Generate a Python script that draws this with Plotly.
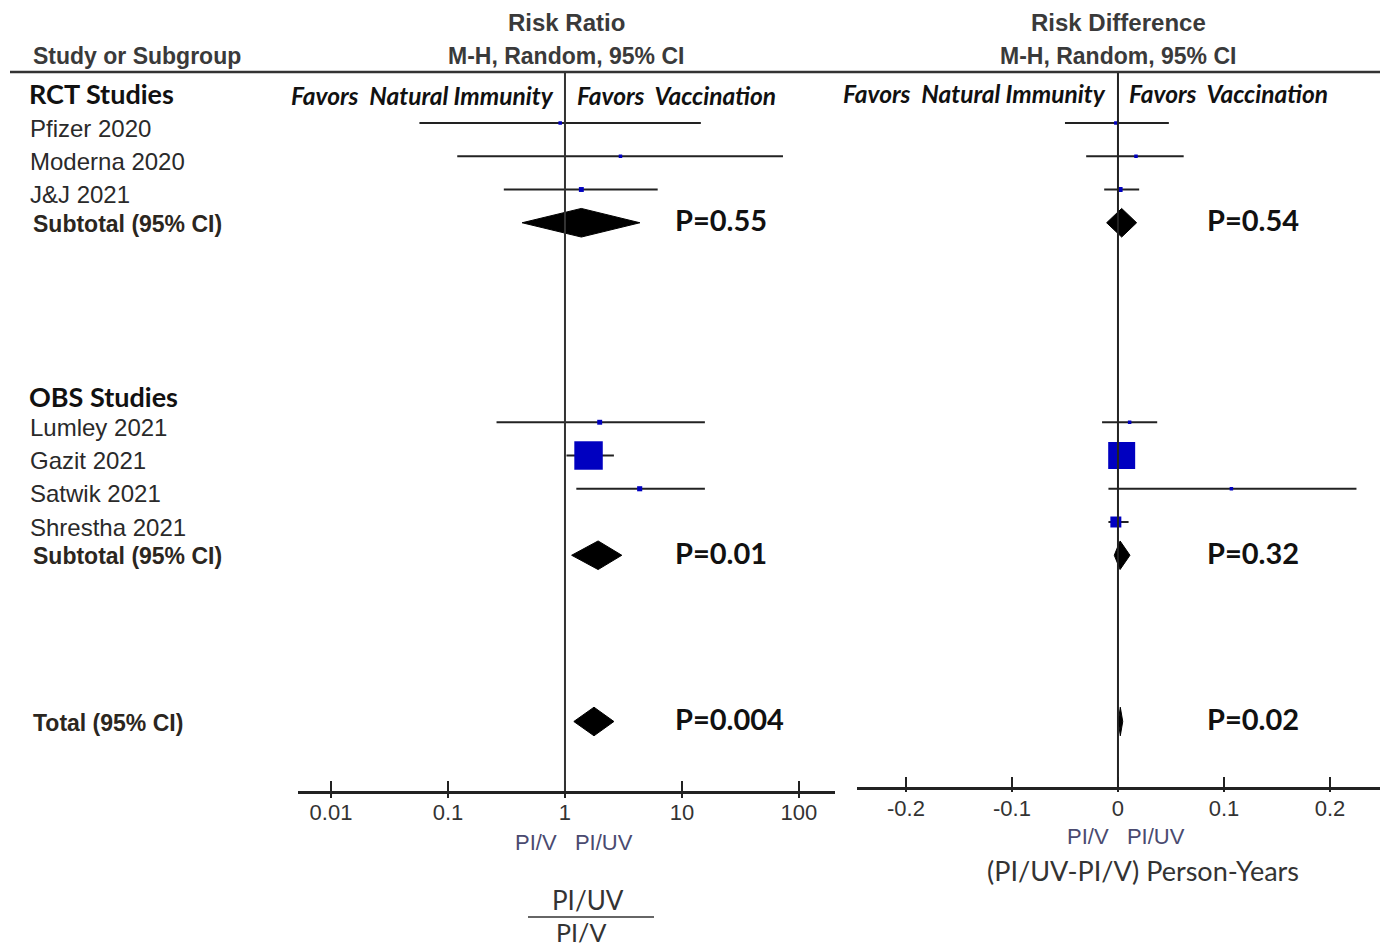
import plotly.graph_objects as go

W, H = 1380, 949

# ---------------- data ----------------
studies = ["Pfizer 2020", "Moderna 2020", "J&J 2021",
           "Lumley 2021", "Gazit 2021", "Satwik 2021", "Shrestha 2021"]
study_rows = [1, 2, 3, 10, 11, 12, 13]

rr_est = [0.91, 2.98, 1.38, 1.98, 1.59, 4.35, None]
rr_lo = [0.057, 0.12, 0.30, 0.26, 1.03, 1.25, None]
rr_hi = [14.5, 73.0, 6.2, 15.7, 2.62, 15.7, None]
rr_weight = [1.0, 0.7, 2.7, 2.7, 90.0, 2.9, None]

rd_est = [-0.002, 0.017, 0.002, 0.011, 0.0035, 0.107, -0.002]
rd_lo = [-0.050, -0.030, -0.013, -0.015, 0.0, -0.009, -0.009]
rd_hi = [0.048, 0.062, 0.020, 0.037, 0.007, 0.225, 0.010]
rd_weight = [1.0, 0.7, 2.8, 0.7, 80.9, 0.45, 13.4]

pooled_labels = ["Subtotal (95% CI)", "Subtotal (95% CI)", "Total (95% CI)"]
pooled_rows = [4, 14, 19]
rr_pooled_est = [1.38, 1.92, 1.77]
rr_pooled_lo = [0.43, 1.14, 1.19]
rr_pooled_hi = [4.37, 3.06, 2.62]
rr_pooled_p = ["P=0.55", "P=0.01", "P=0.004"]
rd_pooled_est = [0.0035, 0.002, 0.0022]
rd_pooled_lo = [-0.0107, -0.0035, 0.0003]
rd_pooled_hi = [0.0176, 0.0113, 0.0045]
rd_pooled_p = ["P=0.54", "P=0.32", "P=0.02"]

group_labels = ["RCT Studies", "OBS Studies"]
group_rows = [0, 9.1]

rr_ticks = [0.01, 0.1, 1, 10, 100]
rr_ticktext = ["0.01", "0.1", "1", "10", "100"]
rd_ticks = [-0.2, -0.1, 0, 0.1, 0.2]
rd_ticktext = ["-0.2", "-0.1", "0", "0.1", "0.2"]

# ---------------- layout helpers ----------------
ROW_PX = 33.25      # pixels per row
ROW1_PX = 123.0     # pixel of row 1
AX_L_PX = 791       # left axis line pixel
AX_R_PX = 787       # right axis line pixel
NARROW = "Liberation Sans Narrow, Arial Narrow, Liberation Sans"
ARIAL = "Liberation Sans, Arial"
CAL = "Lato, Carlito, Calibri"
DARK = "#2a2a2a"
HEAD = "#3a3a3a"
BLUE = "#0000c0"


def px(x, y):
    return x / W, 1 - y / H


def yrange(bottom_px):
    return [1 + (bottom_px - ROW1_PX) / ROW_PX, 1 - ROW1_PX / ROW_PX]


def ci_xy(lo, hi, rows):
    xs, ys = [], []
    for a, b, r in zip(lo, hi, rows):
        if a is None:
            continue
        xs += [a, b, None]
        ys += [r, r, None]
    return xs, ys


def diamond_xy(est, lo, hi, rows, half=0.43):
    xs, ys = [], []
    for e, a, b, r in zip(est, lo, hi, rows):
        xs += [a, e, b, e, a, None]
        ys += [r, r - half, r, r + half, r, None]
    return xs, ys


fig = go.Figure()

for (est, lo, hi, wt, pest, plo, phi, xa, ya) in [
    (rr_est, rr_lo, rr_hi, rr_weight, rr_pooled_est, rr_pooled_lo, rr_pooled_hi, "x", "y"),
    (rd_est, rd_lo, rd_hi, rd_weight, rd_pooled_est, rd_pooled_lo, rd_pooled_hi, "x2", "y2"),
]:
    cx, cy = ci_xy(lo, hi, study_rows)
    fig.add_trace(go.Scatter(x=cx, y=cy, mode="lines", xaxis=xa, yaxis=ya,
                             line=dict(color="#222", width=2), hoverinfo="skip"))
    mx = [e for e in est if e is not None]
    my = [r for e, r in zip(est, study_rows) if e is not None]
    ms = [max(3.5, 3.0 * w ** 0.5) for w in wt if w is not None]
    fig.add_trace(go.Scatter(x=mx, y=my, mode="markers", xaxis=xa, yaxis=ya,
                             marker=dict(symbol="square", size=ms, color=BLUE,
                                         opacity=1, line=dict(width=0))))
    dx, dy = diamond_xy(pest, plo, phi, pooled_rows)
    fig.add_trace(go.Scatter(x=dx, y=dy, mode="lines", fill="toself", xaxis=xa, yaxis=ya,
                             fillcolor="black", line=dict(color="black", width=1),
                             hoverinfo="skip"))

annotations = []


def add_text(x, y, text, size, family, color=DARK, bold=False, italic=False,
             xanchor="left", xref="paper", yref="paper", yshift=0):
    t = text
    if bold:
        t = "<b>" + t + "</b>"
    if italic:
        t = "<i>" + t + "</i>"
    annotations.append(dict(x=x, y=y, xref=xref, yref=yref, text=t, showarrow=False,
                            xanchor=xanchor, yanchor="middle", yshift=yshift,
                            font=dict(size=size, family=family, color=color)))


# headers
for cx, t1 in [(566, "Risk Ratio"), (1118, "Risk Difference")]:
    x, y = px(cx, 22)
    add_text(x, y, t1, 24, NARROW, HEAD, bold=True, xanchor="center")
    x, y = px(cx, 56)
    add_text(x, y, "M-H, Random, 95% CI", 23, NARROW, HEAD, bold=True, xanchor="center")
x, y = px(31, 56)
add_text(x, y, "Study or Subgroup", 23, NARROW, HEAD, bold=True)

# favours labels
for cx, yy in [(566, 96), (1118, 93)]:
    x, y = px(cx - 10, yy)
    add_text(x, y, "Favors&nbsp;&nbsp;Natural Immunity", 24.5, CAL, "#111", bold=True,
             italic=True, xanchor="right")
    x, y = px(cx + 9, yy)
    add_text(x, y, "Favors&nbsp;&nbsp;Vaccination", 24.5, CAL, "#111", bold=True,
             italic=True, xanchor="left")

# group labels
for g, r in zip(group_labels, group_rows):
    add_text(27 / W, r, g, 27, CAL, "#111", bold=True, yref="y", yshift=-4)

# study labels
for s, r in zip(studies, study_rows):
    add_text(28 / W, r, s, 24, ARIAL, DARK, yref="y", yshift=-5)

# pooled labels
for s, r in zip(pooled_labels, pooled_rows):
    add_text(31 / W, r, s, 23, NARROW, "#2b2620", bold=True, yref="y", yshift=-1)

# p values
for p, r in zip(rr_pooled_p, pooled_rows):
    add_text(673 / W, r, p, 29, CAL, "#111", bold=True, yref="y", yshift=3)
for p, r in zip(rd_pooled_p, pooled_rows):
    add_text(1205 / W, r, p, 29, CAL, "#111", bold=True, yref="y", yshift=3)

# bottom labels
x, y = px(574, 842)
add_text(x, y, "PI/V&nbsp;&nbsp;&nbsp;PI/UV", 22, NARROW, "#4a4a70", xanchor="center")
x, y = px(1126, 836)
add_text(x, y, "PI/V&nbsp;&nbsp;&nbsp;PI/UV", 22, NARROW, "#4a4a70", xanchor="center")
x, y = px(1143, 870)
add_text(x, y, "(PI/UV-PI/V) Person-Years", 27, CAL, "#333", xanchor="center")
x, y = px(588, 900)
add_text(x, y, "PI/UV", 26, CAL, "#333", xanchor="center")
x, y = px(581, 932)
add_text(x, y, "PI/V", 25, CAL, "#333", xanchor="center")

shapes = [
    dict(type="line", xref="paper", yref="paper", x0=10 / W, x1=1,
         y0=1 - 72 / H, y1=1 - 72 / H, line=dict(color="#333", width=2.5)),
    dict(type="line", xref="x", yref="y domain", x0=1, x1=1, y0=0,
         y1=1 - 73 / AX_L_PX, line=dict(color="#333", width=2)),
    dict(type="line", xref="x2", yref="y2 domain", x0=0, x1=0, y0=0,
         y1=1 - 73 / AX_R_PX, line=dict(color="#222", width=2)),
    dict(type="line", xref="paper", yref="paper", x0=528 / W, x1=654 / W,
         y0=1 - 917 / H, y1=1 - 917 / H, line=dict(color="#333", width=1.5)),
]

axis_common = dict(showgrid=False, zeroline=False, showline=True, linecolor="#222",
                   linewidth=2.5, ticks="inside", ticklen=10, tickwidth=2,
                   tickcolor="#222", tickfont=dict(family=ARIAL, size=22, color="#333"),
                   fixedrange=True)

fig.update_layout(
    width=W, height=H, autosize=False,
    margin=dict(l=0, r=0, t=0, b=0),
    paper_bgcolor="white", plot_bgcolor="white",
    showlegend=False,
    annotations=annotations, shapes=shapes,
    xaxis=dict(type="log", domain=[298 / W, 835 / W], range=[-2.282, 2.308],
               tickvals=rr_ticks, ticktext=rr_ticktext, anchor="y", **axis_common),
    xaxis2=dict(type="linear", domain=[857 / W, 1.0], range=[-0.2462, 0.2472],
                tickvals=rd_ticks, ticktext=rd_ticktext, anchor="y2", **axis_common),
    xaxis3=dict(type="log", overlaying="x", range=[-2.282, 2.308], anchor="y",
                tickvals=rr_ticks, showticklabels=False, ticks="outside", ticklen=6,
                tickwidth=2, tickcolor="#222", showgrid=False, zeroline=False,
                showline=False),
    xaxis4=dict(type="linear", overlaying="x2", range=[-0.2462, 0.2472], anchor="y2",
                tickvals=rd_ticks, showticklabels=False, ticks="outside", ticklen=4,
                tickwidth=2, tickcolor="#222", showgrid=False, zeroline=False,
                showline=False),
    yaxis=dict(domain=[(H - AX_L_PX) / H, 1], range=yrange(AX_L_PX), visible=False,
               anchor="x", fixedrange=True),
    yaxis2=dict(domain=[(H - AX_R_PX) / H, 1], range=yrange(AX_R_PX), visible=False,
                anchor="x2", fixedrange=True),
)
# dummy traces so overlay axes get drawn
fig.add_trace(go.Scatter(x=[1], y=[0], xaxis="x3", yaxis="y", mode="markers",
                         marker=dict(opacity=0), hoverinfo="skip"))
fig.add_trace(go.Scatter(x=[0], y=[0], xaxis="x4", yaxis="y2", mode="markers",
                         marker=dict(opacity=0), hoverinfo="skip"))

fig.write_html("out.html", config={"displayModeBar": False, "staticPlot": True},
               post_script="document.body.style.margin='0';document.body.style.overflow='hidden';")
